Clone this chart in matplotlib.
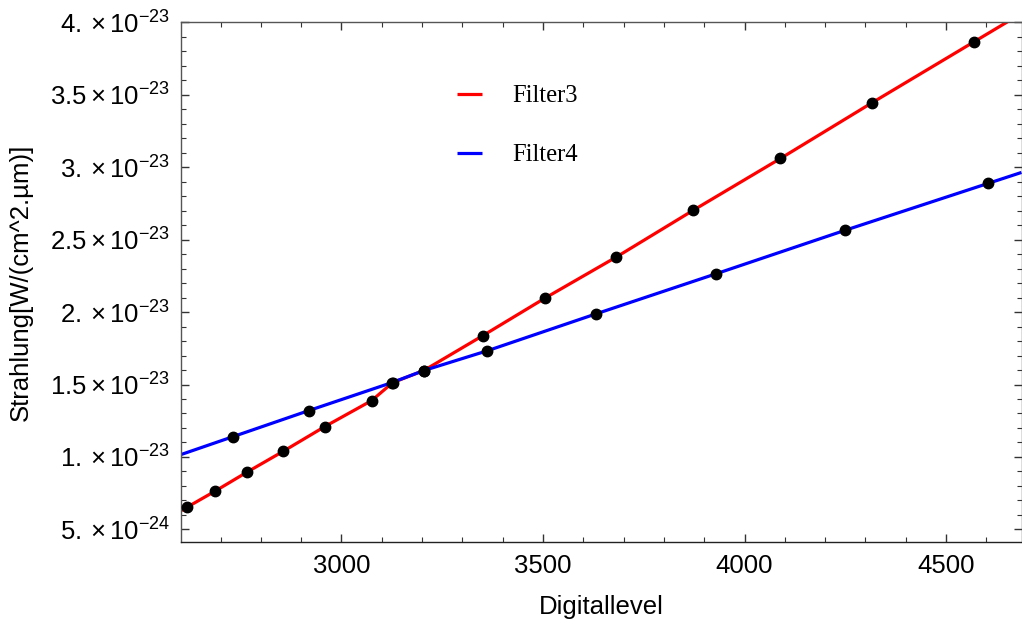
import numpy as np
import matplotlib
matplotlib.use("Agg")
import matplotlib.pyplot as plt
from matplotlib.ticker import FixedLocator, MultipleLocator, FuncFormatter

plt.rcParams['font.family'] = ['Liberation Sans', 'DejaVu Sans']
plt.rcParams['mathtext.fontset'] = 'custom'
plt.rcParams['mathtext.rm'] = 'Liberation Sans'
plt.rcParams['mathtext.it'] = 'Liberation Sans:italic'
plt.rcParams['mathtext.bf'] = 'Liberation Sans:bold'

# Data (Strahlung in units of 1e-23 W/(cm^2.um))
filter3_x = [2617, 2686, 2765, 2855, 2959, 3075, 3127, 3204, 3350, 3506, 3682, 3873, 4089, 4317, 4569]
filter3_y = [0.653, 0.763, 0.894, 1.038, 1.21, 1.389, 1.513, 1.596, 1.836, 2.098, 2.38, 2.703, 3.06, 3.446, 3.865]
filter4_x = [2731, 2919, 3125, 3204, 3362, 3632, 3928, 4250, 4604]
filter4_y = [1.14, 1.32, 1.513, 1.596, 1.733, 1.988, 2.263, 2.565, 2.888]

x_min, x_max = 2602, 4687
y_min, y_max = 0.415, 4.0
y_ticks = [0.5, 1.0, 1.5, 2.0, 2.5, 3.0, 3.5, 4.0]
x_ticks = [3000, 3500, 4000, 4500]
legend_labels = ['Filter3', 'Filter4']

scale = 1e-23


def extended_line(xs, ys, lo, hi):
    xs = np.asarray(xs, float)
    ys = np.asarray(ys, float)
    s0 = (ys[1] - ys[0]) / (xs[1] - xs[0])
    s1 = (ys[-1] - ys[-2]) / (xs[-1] - xs[-2])
    xl = np.concatenate([[lo], xs, [hi]])
    yl = np.concatenate([[ys[0] + s0 * (lo - xs[0])], ys, [ys[-1] + s1 * (hi - xs[-1])]])
    return xl, yl


fig = plt.figure(figsize=(10.22, 6.21), dpi=100)
ax = fig.add_axes([181 / 1022, 1 - 541.7 / 621, (1021.5 - 181) / 1022, (541.7 - 22.3) / 621])

l3x, l3y = extended_line(filter3_x, filter3_y, x_min, x_max)
l4x, l4y = extended_line(filter4_x, filter4_y, x_min, x_max)
h3, = ax.plot(l3x, np.array(l3y) * scale, color='#ff0000', lw=2.3, solid_capstyle='butt', zorder=2)
h4, = ax.plot(l4x, np.array(l4y) * scale, color='#0000ff', lw=2.3, solid_capstyle='butt', zorder=2)
ax.plot(filter3_x, np.array(filter3_y) * scale, 'o', color='black', ms=7.5, zorder=3)
ax.plot(filter4_x, np.array(filter4_y) * scale, 'o', color='black', ms=7.5, zorder=3)

ax.set_xlim(x_min, x_max)
ax.set_ylim(y_min * scale, y_max * scale)

ax.xaxis.set_major_locator(FixedLocator(x_ticks))
ax.xaxis.set_minor_locator(MultipleLocator(100))
ax.yaxis.set_major_locator(FixedLocator([v * scale for v in y_ticks]))
ax.yaxis.set_minor_locator(MultipleLocator(0.1 * scale))


def yfmt(v, pos):
    m = v / scale
    if m < 0.99:
        mant = m * 10
        exp = -24
    else:
        mant = m
        exp = -23
    s = ('%g' % round(mant, 3))
    if '.' not in s:
        s = s + '.'
    return r'$%s\times10^{%d}$' % (s, exp)


ax.yaxis.set_major_formatter(FuncFormatter(yfmt))
ax.xaxis.set_major_formatter(FuncFormatter(lambda v, p: '%d' % v))

spine_color = '#555555'
for sp in ax.spines.values():
    sp.set_color(spine_color)
    sp.set_linewidth(1.0)
ax.spines['bottom'].set_color('#222222')

ax.tick_params(which='both', direction='in', top=True, right=True, colors='#333333',
               labelcolor='black', labelsize=18.5)
ax.tick_params(which='major', length=6, width=1.0)
ax.tick_params(which='minor', length=3.5, width=0.8)
ax.tick_params(axis='y', pad=8)
ax.tick_params(axis='x', pad=9)

ax.set_xlabel('Digitallevel', fontsize=18.5, labelpad=12)
ax.set_ylabel('Strahlung[W/(cm^2.\u00b5m)]', fontsize=18.5, labelpad=12)

leg = ax.legend([h3, h4], legend_labels, loc='upper left',
                bbox_to_anchor=(435 / 1022, 1 - 63 / 621), bbox_transform=fig.transFigure,
                frameon=False, handlelength=1.0, handletextpad=1.25, labelspacing=1.5,
                prop={'family': 'Liberation Serif', 'size': 17.7})

fig.savefig('out.png', dpi=100)
